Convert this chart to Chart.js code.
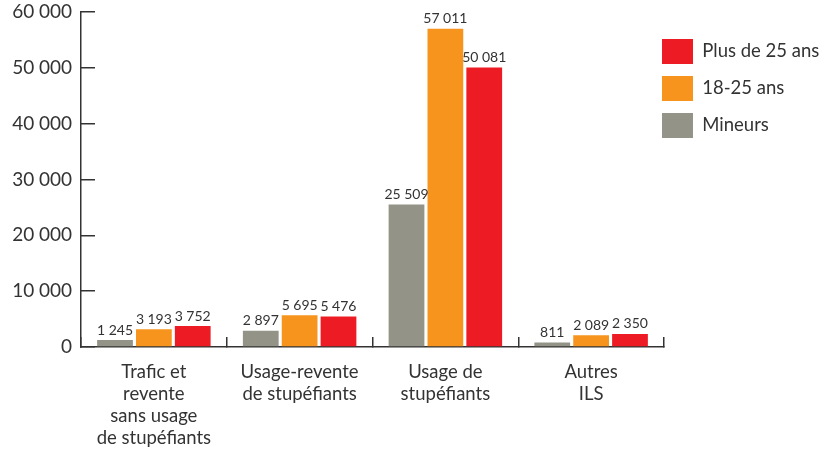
<!DOCTYPE html>
<html>
<head>
<meta charset="utf-8">
<script src="https://cdn.jsdelivr.net/npm/chart.js@4"></script>
<style>
html,body{margin:0;padding:0;background:#fff;}
#wrap{width:824px;height:450px;}
</style>
</head>
<body>
<div id="wrap"><canvas id="chartILS"></canvas></div>
<script>

/* donnees */

let categories=[
["Trafic et","revente","sans usage","de stupéfiants"],
["Usage-revente","de stupéfiants"],
["Usage de","stupéfiants"],
["Autres","ILS"]
];

let mineurs=[1245,2897,25509,811];
let jeunes=[3193,5695,57011,2089];
let adultes=[3752,5476,50081,2350];

let seriesLabels=["Mineurs","18-25 ans","Plus de 25 ans"];
let colors=["#939387","#f7941d","#ed1c24"];

let yTicks=[0,10000,20000,30000,40000,50000,60000];

let font="Lato, 'Open Sans', sans-serif";
let textColor="#333";

function fmt(v){
return String(v).replace(/\B(?=(\d{3})+(?!\d))/g,"\u202f");
}

/* etiquettes au dessus des barres */

const valueLabels={
id:"valueLabels",
afterDatasetsDraw(chart){
let ctx=chart.ctx;
ctx.save();
ctx.font="14px "+font;
ctx.fillStyle=textColor;
ctx.textAlign="center";
ctx.textBaseline="bottom";
chart.data.datasets.forEach((ds,i)=>{
chart.getDatasetMeta(i).data.forEach((bar,j)=>{
ctx.fillText(fmt(ds.data[j]),bar.x,bar.y-3);
});
});
ctx.restore();
}
};

/* legende a droite, un peu plus bas */

const legendPlace={
id:"legendPlace",
afterLayout(chart){
chart.legend.left=650;
chart.legend.top=27;
}
};

let datasets=[mineurs,jeunes,adultes].map((d,i)=>({
label:seriesLabels[i],
data:d,
backgroundColor:colors[i],
categoryPercentage:0.8,
barPercentage:0.92
}));

new Chart(document.getElementById("chartILS"),{
type:"bar",
data:{
labels:categories,
datasets:datasets
},
options:{
responsive:true,
maintainAspectRatio:false,
animation:false,
layout:{padding:{top:4,right:0,left:0,bottom:2}},
plugins:{
tooltip:{enabled:false},
legend:{
position:"right",
align:"start",
reverse:true,
maxWidth:160,
labels:{
boxWidth:31,
boxHeight:25,
padding:12,
color:textColor,
font:{family:font,size:18.5}
}
}
},
scales:{
x:{
afterFit(scale){ scale.height=101; },
grid:{
drawOnChartArea:false,
tickLength:-10,
color:"#333",
lineWidth:1.5
},
border:{color:"#333",width:1.5},
ticks:{
color:textColor,
font:{family:font,size:18.5,lineHeight:1.19},
maxRotation:0,
autoSkip:false,
padding:24
}
},
y:{
min:0,
max:60000,
afterFit(scale){
scale.width=81;
scale.paddingTop=12;
scale.paddingBottom=12;
},
afterBuildTicks(axis){
axis.ticks=yTicks.map(v=>({value:v}));
},
grid:{
drawOnChartArea:false,
tickLength:-14,
color:"#333",
lineWidth:1.5
},
border:{color:"#333",width:1.5},
ticks:{
color:textColor,
font:{family:font,size:19},
padding:23,
callback:v=>fmt(v)
}
}
}
},
plugins:[valueLabels,legendPlace]
});

</script>
</body>
</html>
